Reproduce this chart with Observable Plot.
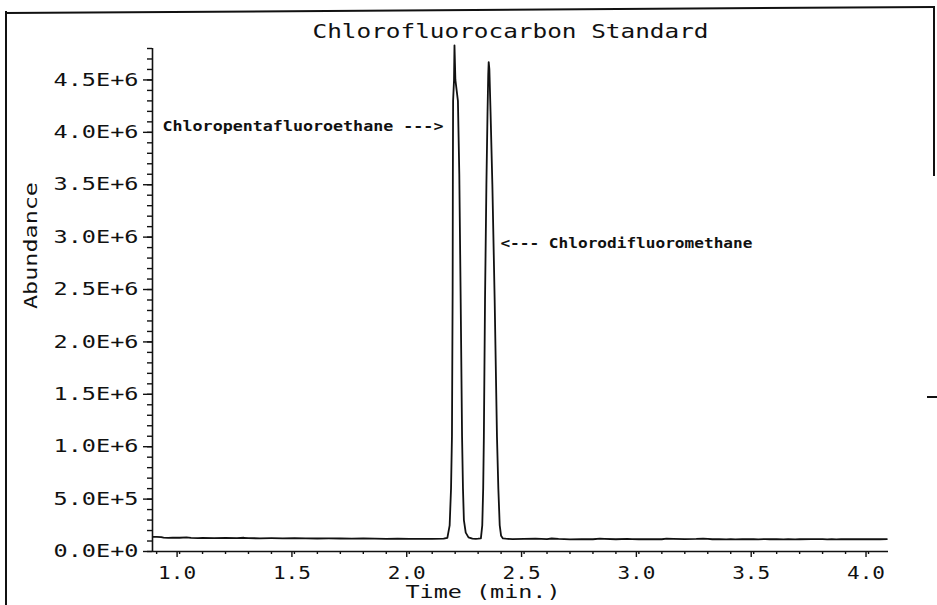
<!DOCTYPE html>
<html><head><meta charset="utf-8">
<script src="https://cdn.jsdelivr.net/npm/d3@7"></script>
<script src="https://cdn.jsdelivr.net/npm/@observablehq/plot@0.6"></script>
<style>
body{margin:0;background:#fff;}
#wrap{position:relative;width:937px;height:605px;overflow:hidden;background:#fff;}
#wrap svg{position:absolute;left:0;top:0;}
.b{position:absolute;background:#111;}
</style></head><body><div id="wrap">
<div class="b" style="left:5px;top:11px;width:2px;height:594px"></div>
<div class="b" style="left:5px;top:12px;width:930px;height:2px;transform:rotate(-0.37deg);transform-origin:0 0;"></div>
<div class="b" style="left:933px;top:6px;width:2px;height:170px"></div>
<div class="b" style="left:927px;top:396px;width:10px;height:2px"></div>
</div>
<script>
const title = "Chlorofluorocarbon Standard";
const xLabel = "Time (min.)";
const yLabel = "Abundance";
const xDomain = [0.882, 4.087];
const yDomain = [0, 4.8e6];
const xTicks = [1.0, 1.5, 2.0, 2.5, 3.0, 3.5, 4.0];
const xTickLabels = ["1.0", "1.5", "2.0", "2.5", "3.0", "3.5", "4.0"];
const yTicks = [0, 5e5, 1e6, 1.5e6, 2e6, 2.5e6, 3e6, 3.5e6, 4e6, 4.5e6];
const yTickLabels = ["0.0E+0", "5.0E+5", "1.0E+6", "1.5E+6", "2.0E+6", "2.5E+6", "3.0E+6", "3.5E+6", "4.0E+6", "4.5E+6"];

// chromatogram trace: time (min) and abundance
const times = [
  0.885, 0.90, 0.92, 0.93, 0.95, 0.97, 1.00, 1.03, 1.05, 1.08, 1.10, 1.15, 1.20, 1.25, 1.28, 1.30,
  1.35, 1.40, 1.45, 1.50, 1.55, 1.60, 1.65, 1.70, 1.75, 1.80, 1.85, 1.90, 1.95, 2.00, 2.05, 2.10, 2.15,
  2.166, 2.176, 2.182, 2.186, 2.189, 2.190, 2.191, 2.195, 2.197, 2.201, 2.212, 2.218, 2.224, 2.230,
  2.234, 2.238, 2.246, 2.258, 2.275, 2.290, 2.300, 2.312, 2.318, 2.322, 2.325, 2.330, 2.336, 2.341,
  2.344, 2.346, 2.349, 2.354, 2.362, 2.372, 2.382, 2.388, 2.394, 2.400, 2.408,
  2.42, 2.45, 2.50, 2.55, 2.60, 2.62, 2.65, 2.70, 2.75, 2.80, 2.83, 2.85, 2.90, 2.95, 2.97, 3.00,
  3.05, 3.10, 3.12, 3.15, 3.20, 3.25, 3.28, 3.30, 3.32, 3.35, 3.38, 3.40, 3.42, 3.45, 3.47, 3.50,
  3.52, 3.55, 3.57, 3.60, 3.63, 3.65, 3.68, 3.70, 3.75, 3.80, 3.82, 3.84, 3.86, 3.88, 3.90, 3.92,
  3.95, 3.97, 4.00, 4.02, 4.05, 4.08
];
const abundances = [
  1.40e5, 1.40e5, 1.38e5, 1.32e5, 1.30e5, 1.33e5, 1.31e5, 1.34e5, 1.30e5, 1.28e5, 1.30e5, 1.28e5, 1.29e5, 1.27e5, 1.31e5, 1.27e5,
  1.26e5, 1.27e5, 1.26e5, 1.27e5, 1.25e5, 1.24e5, 1.25e5, 1.24e5, 1.23e5, 1.24e5, 1.22e5, 1.21e5, 1.22e5, 1.20e5, 1.21e5, 1.20e5, 1.22e5,
  1.30e5, 2.5e5, 6.0e5, 1.1e6, 2.5e6, 3.6e6, 4.3e6, 4.5e6, 4.83e6, 4.5e6, 4.3e6, 3.6e6, 2.4e6, 1.1e6,
  6.0e5, 3.0e5, 1.8e5, 1.35e5, 1.22e5, 1.21e5, 1.22e5, 1.25e5, 2.5e5, 6.0e5, 1.1e6, 2.4e6, 3.5e6, 4.2e6,
  4.55e6, 4.67e6, 4.6e6, 4.2e6, 3.5e6, 2.4e6, 1.1e6, 6.0e5, 2.5e5, 1.5e5, 1.25e5,
  1.22e5, 1.18e5, 1.20e5, 1.22e5, 1.19e5, 1.24e5, 1.20e5, 1.16e5, 1.17e5, 1.17e5, 1.22e5, 1.20e5, 1.17e5, 1.21e5, 1.19e5, 1.17e5,
  1.17e5, 1.17e5, 1.22e5, 1.20e5, 1.19e5, 1.20e5, 1.23e5, 1.20e5, 1.17e5, 1.19e5, 1.16e5, 1.19e5, 1.16e5, 1.19e5, 1.17e5, 1.19e5,
  1.16e5, 1.19e5, 1.17e5, 1.18e5, 1.16e5, 1.18e5, 1.16e5, 1.17e5, 1.18e5, 1.19e5, 1.15e5, 1.18e5, 1.16e5, 1.18e5, 1.17e5, 1.19e5,
  1.17e5, 1.19e5, 1.17e5, 1.19e5, 1.17e5, 1.19e5
];

// peak annotations
const peakNames = ["Chloropentafluoroethane --->", "<--- Chlorodifluoromethane"];
const peakLabelTimes = [2.149, 2.397];
const peakLabelAbundances = [4.055e6, 2.94e6];

const trace = times.map((t, i) => ({t, a: abundances[i]}));
const annLeft = [{t: peakLabelTimes[0], a: peakLabelAbundances[0], s: peakNames[0]}];
const annRight = [{t: peakLabelTimes[1], a: peakLabelAbundances[1], s: peakNames[1]}];
const xMinor = d3.range(9, 41).map(d => d / 10);
const yMinor = d3.range(0, 49).map(d => d * 1e5);

const font = "'DejaVu Sans Mono', 'Liberation Mono', monospace";
const chart = Plot.plot({
  width: 937,
  height: 605,
  marginLeft: 152,
  marginRight: 49,
  marginTop: 48,
  marginBottom: 54,
  x: {domain: xDomain},
  y: {domain: yDomain},
  style: {fontFamily: font, fontSize: "18px", color: "#111", background: "transparent"},
  marks: [
    Plot.axisY(yMinor, {tickSize: 5, tickFormat: () => "", label: null, stroke: "#111", strokeWidth: 1.4}),
    Plot.axisY(yTicks, {tickSize: 9, tickPadding: 5, tickFormat: d => yTickLabels[yTicks.indexOf(d)], label: null, fontSize: 18, stroke: "#111", strokeWidth: 1.4, fill: "#111"}),
    Plot.axisX(xMinor, {tickSize: 3, tickFormat: () => "", label: null, stroke: "#111", strokeWidth: 1.4}),
    Plot.axisX(xTicks, {tickSize: 6, tickPadding: 9, dx: -2.5, tickFormat: d => xTickLabels[xTicks.indexOf(d)], label: null, fontSize: 17, stroke: "#111", strokeWidth: 1.4, fill: "#111"}),
    Plot.ruleX([xDomain[0]], {stroke: "#111", strokeWidth: 1.6}),
    Plot.ruleY([yDomain[0]], {stroke: "#111", strokeWidth: 1.6}),
    Plot.line(trace, {x: "t", y: "a", stroke: "#111", strokeWidth: 1.8}),
    Plot.text(annLeft, {x: "t", y: "a", text: "s", textAnchor: "end", fontSize: 14, fontWeight: "bold", fill: "#111"}),
    Plot.text(annRight, {x: "t", y: "a", text: "s", textAnchor: "start", fontSize: 14, fontWeight: "bold", fill: "#111"}),
    Plot.text([title], {frameAnchor: "top", lineAnchor: "middle", dy: -17, dx: -10, fontSize: 20, fill: "#111"}),
    Plot.text([xLabel], {frameAnchor: "bottom", lineAnchor: "middle", dy: 41, dx: -37.5, fontSize: 17, fill: "#111"}),
    Plot.text([yLabel], {frameAnchor: "left", lineAnchor: "middle", rotate: -90, dx: -121, dy: 9, fontSize: 18, fill: "#111"})
  ]
});
document.getElementById("wrap").prepend(chart);

// stretch the texts to the wide plotter lettering of the original
function fit(match, len) {
  d3.select(chart).selectAll("text")
    .filter(function() { return match(this.textContent); })
    .attr("textLength", len)
    .attr("lengthAdjust", "spacingAndGlyphs");
}
fit(s => yTickLabels.includes(s), 85);
fit(s => xTickLabels.includes(s), 38);
fit(s => s === title, 396);
fit(s => s === peakNames[0], 281);
fit(s => s === peakNames[1], 252);
fit(s => s === yLabel, 127);
fit(s => s === xLabel, 155);
</script>
</body></html>
